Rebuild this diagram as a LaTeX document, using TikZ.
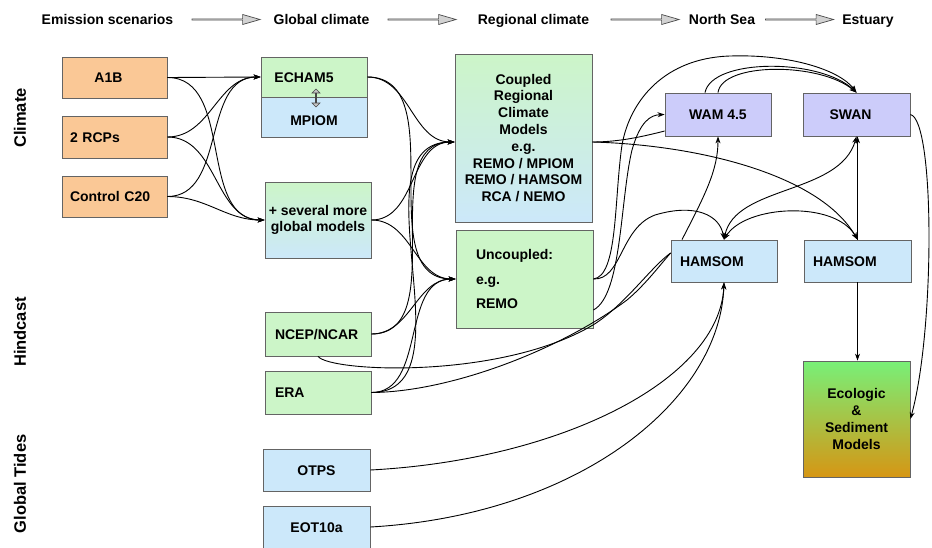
\documentclass[tikz,border=0pt]{standalone}
\usepackage{fontspec}
\setmainfont{Liberation Sans}
\usetikzlibrary{arrows.meta,shapes.arrows}
\definecolor{borange}{RGB}{250,200,150}
\definecolor{bgreen}{RGB}{204,245,200}
\definecolor{bblue}{RGB}{204,232,250}
\definecolor{blav}{RGB}{204,204,250}
\definecolor{bordc}{RGB}{100,100,100}
\definecolor{ecotop}{RGB}{120,240,120}
\definecolor{ecobot}{RGB}{214,150,20}
\begin{document}
\begin{tikzpicture}[x=1pt,y=-1pt,
  box/.style={draw=bordc, line width=0.8pt, inner sep=0pt, text=black,
    font=\bfseries\fontsize{14}{16.8}\selectfont},
  one/.style={text height=10pt, text depth=0pt},
  sz/.style 2 args={minimum width=#1pt, minimum height=#2pt},
  link/.style={draw=black, line width=0.9pt, -{Stealth[length=7pt,width=5pt]}},
  link2/.style={draw=black, line width=0.9pt, {Stealth[length=7pt,width=5pt]}-{Stealth[length=7pt,width=5pt]}},
  plain/.style={draw=black, line width=0.9pt},
  hdr/.style={font=\bfseries\fontsize{14}{16}\selectfont, anchor=base, inner sep=0pt},
  side/.style={font=\bfseries\fontsize{16.5}{18}\selectfont, rotate=90, inner sep=0pt},
  hdrarrow/.style={single arrow, draw=gray!60!black, fill=gray!35, line width=0.7pt,
    minimum height=68pt, minimum width=10pt, single arrow head extend=2.5pt,
    single arrow tip angle=32, inner sep=0pt},
  dblarrow/.style={double arrow, draw=gray!55!black, fill=gray!45, line width=0.6pt,
    minimum height=18pt, minimum width=8pt, double arrow head extend=2pt,
    double arrow tip angle=90, inner sep=0pt, rotate=90}
]
\useasboundingbox (0,0) rectangle (932,547);
\fill[white] (0,0) rectangle (932,547);

% header
\node[hdr] (hES) at (107.5,24) {Emission scenarios};
\node[hdr] (hGC) at (321.5,24) {Global climate};
\node[hdr] (hRC) at (533.5,24) {Regional climate};
\node[hdr] (hNS) at (722,24) {North Sea};
\node[hdr] (hEs) at (868,24) {Estuary};
\node[hdrarrow] (ha1) at (225,19.5) {};
\node[hdrarrow] (ha2) at (421,19.5) {};
\node[hdrarrow] (ha3) at (644,19.5) {};
\node[hdrarrow] (ha4) at (798.5,19.5) {};

% side labels
\node[side] (sCl) at (20,118) {Climate};
\node[side] (sHi) at (20,332) {Hindcast};
\node[side] (sGT) at (20,484) {Global Tides};

% emission scenarios
\node[box, one, fill=borange, sz={105}{41}] (a1b) at (114.5,77.5) {\hspace*{-12pt}A1B};
\node[box, one, fill=borange, sz={105}{42}, text width=89pt, align=left] (rcp) at (114.5,137) {2 RCPs};
\node[box, one, fill=borange, sz={105}{41}, text width=89pt, align=left] (c20) at (114.5,196.5) {Control C20};

% global climate
\node[box, one, fill=bgreen, sz={106}{40}] (echam) at (314,77) {\hspace*{-20pt}ECHAM5};
\node[box, one, fill=bblue, sz={106}{40}] (mpiom) at (314,117) {\raisebox{-3pt}{MPIOM}};
\node[dblarrow] (dbl) at (316,98) {};
\node[box, top color=bgreen, bottom color=bblue, sz={106}{76}, align=center] (several) at (318,220) {+ several more\\global models};
\node[box, one, fill=bgreen, sz={106}{44}, text width=86pt, align=left] (ncep) at (318,334) {NCEP/NCAR};
\node[box, one, fill=bgreen, sz={106}{43}, text width=86pt, align=left] (era) at (318,392.5) {ERA};
\node[box, one, fill=bblue, sz={107}{42}] (otps) at (316.5,470) {OTPS};
\node[box, one, fill=bblue, sz={107}{42}] (eot) at (316.5,527) {EOT10a};

% regional climate
\node[box, top color=bgreen, bottom color=bblue, sz={137}{168}] (coupled) at (523.5,138)
  {\raisebox{-4pt}{\parbox{130pt}{\centering Coupled\\Regional\\Climate\\Models\\e.g.\\REMO / MPIOM\\REMO / HAMSOM\\RCA / NEMO}}};
\node[box, fill=bgreen, sz={137}{98}] (uncoupled) at (524.5,279)
  {\raisebox{7pt}{\parbox{97pt}{Uncoupled:\\[8pt]e.g.\\[8pt]REMO}}};

% north sea / estuary
\node[box, one, fill=blav, sz={106}{43}] (wam) at (718,114.5) {WAM 4.5};
\node[box, one, fill=blav, sz={107}{43}] (swan) at (856.5,114.5) {\hspace*{-12pt}SWAN};
\node[box, one, fill=bblue, sz={106}{42}, text width=88pt, align=left] (ham1) at (724,261) {HAMSOM};
\node[box, one, fill=bblue, sz={107}{42}, text width=89pt, align=left] (ham2) at (857.5,261) {HAMSOM};
\node[box, top color=ecotop, bottom color=ecobot, sz={107}{116}] (eco) at (856.5,419)
  {\raisebox{6pt}{\parbox{100pt}{\centering Ecologic\\\&\\Sediment\\Models}}};

% emission fan
\draw[link] (a1b.east) -- (echam.west);
\draw[link] (a1b.east) to[out=0,in=180] (several.west);
\draw[link] (rcp.east) to[out=0,in=180] (echam.west);
\draw[link] (rcp.east) to[out=0,in=180] (several.west);
\draw[link] (c20.east) to[out=0,in=180] (echam.west);
\draw[link] (c20.east) to[out=0,in=180] (several.west);

% global -> regional fan
\draw[link] (echam.east) to[out=0,in=180] ([yshift=-4pt]coupled.west);
\draw[link] (echam.east) to[out=0,in=180] (uncoupled.west);
\draw[link] (several.east) to[out=0,in=180] ([yshift=-4pt]coupled.west);
\draw[link] (several.east) to[out=0,in=180] (uncoupled.west);
\draw[link] (ncep.east) to[out=0,in=180] ([yshift=-4pt]coupled.west);
\draw[link] (ncep.east) to[out=0,in=180] (uncoupled.west);
\draw[link] (era.east) to[out=0,in=180] ([yshift=-4pt]coupled.west);
\draw[link] (era.east) to[out=0,in=180] (uncoupled.west);

% hindcast -> HAMSOM
\draw[plain] (ncep.south) .. controls (330,372) and (500,380) .. (593,325)
  .. controls (625,305) and (650,268) .. ([yshift=8pt]ham1.west);
\draw[plain] (era.east) .. controls (450,392) and (560,350) .. (627,300)
  .. controls (645,285) and (660,265) .. ([yshift=8pt]ham1.west);

% tides -> HAMSOM
\draw[link] (otps.east) .. controls (560,460) and (720,380) .. (ham1.south);
\draw[link] (eot.east) .. controls (580,515) and (720,400) .. (ham1.south);

% coupled outputs
\draw[plain] ([yshift=-4pt]coupled.east) .. controls (620,142) and (645,136) .. ([yshift=-16.5pt]wam.west);
\draw[link] ([yshift=-4pt]coupled.east) .. controls (700,145) and (820,175) .. (ham2.north);

% uncoupled outputs
\draw[link] (uncoupled.east) .. controls (618,276) and (614,200) .. (622,145)
  .. controls (630,100) and (665,58) .. (730,56)
  .. controls (790,54) and (840,70) .. (swan.north);
\draw[link] (uncoupled.east) .. controls (622,280) and (620,228) .. (655,215)
  .. controls (695,203) and (720,215) .. (ham1.north);
\draw[link] ([yshift=-31pt]uncoupled.east) .. controls (622,295) and (620,200) .. (632,150)
  .. controls (640,122) and (650,115) .. (wam.west);

% north sea / estuary links
\draw[link] ([xshift=-13pt]wam.north) .. controls (712,58) and (820,58) .. (swan.north);
\draw[link] (wam.north) .. controls (722,62) and (820,62) .. (swan.north);
\draw[link] ([xshift=-42pt]ham1.north) .. controls (705,195) and (718,170) .. (wam.south);
\draw[link2] (ham1.north) .. controls (735,185) and (840,195) .. (swan.south);
\draw[link2] (ham1.north) .. controls (745,205) and (835,200) .. (ham2.north);
\draw[link] (ham2.north) -- (ham2.north |- swan.south);
\draw[link] (ham2.south) -- (ham2.south |- eco.north);
\draw[link] (swan.east) .. controls (935,120) and (935,330) .. (eco.east);
\end{tikzpicture}
\end{document}
